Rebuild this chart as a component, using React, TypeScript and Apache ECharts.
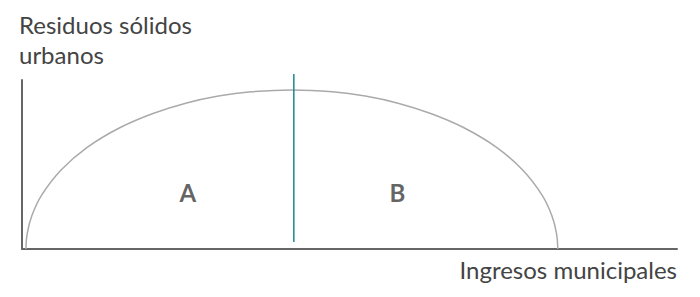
import React, { useEffect, useRef } from "react";
import * as echarts from "echarts";

const yAxisTitle = "Residuos sólidos\nurbanos";
const xAxisTitle = "Ingresos municipales";
const curveX = [0.6, 0.8, 1.5, 3, 6, 10, 15, 20, 25, 30, 35, 41.2, 47.4, 52.4, 57.4, 62.4, 67.4, 72.4, 76.4, 79.4, 80.9, 81.6, 81.8];
const curveY = [0, 9.3, 19.7, 31.9, 46.9, 60.3, 71.9, 80.2, 86.3, 90.5, 93.0, 94.1, 93.0, 90.5, 86.3, 80.2, 71.9, 60.3, 46.9, 31.9, 19.7, 9.3, 0];
const dividerX = [41.5, 41.5];
const dividerY = [4.1, 103.6];
const regionLabels = ["A", "B"];
const regionX = [25.3, 57.3];
const regionY = [33.7, 33.7];

export default function App() {
  const ref = useRef<HTMLDivElement>(null);
  useEffect(() => {
    if (!ref.current) return;
    const chart = echarts.init(ref.current, null, { renderer: "svg" });
    const font = "Lato, 'Open Sans', sans-serif";
    chart.setOption({
      animation: false,
      grid: { left: 22, right: 23, top: 80, bottom: 48 },
      xAxis: {
        type: "value", min: 0, max: 100,
        axisLine: { show: true, lineStyle: { color: "#666", width: 2 } },
        axisTick: { show: false }, axisLabel: { show: false }, splitLine: { show: false },
      },
      yAxis: {
        type: "value", min: 0, max: 100,
        axisLine: { show: true, lineStyle: { color: "#666", width: 2 } },
        axisTick: { show: false }, axisLabel: { show: false }, splitLine: { show: false },
      },
      graphic: [
        {
          type: "text", left: 19, top: 9,
          style: { text: yAxisTitle, font: `24px ${font}`, fill: "#444", lineHeight: 30 },
        },
        {
          type: "text", right: 23, top: 257,
          style: { text: xAxisTitle, font: `24px ${font}`, fill: "#444" },
        },
      ],
      series: [
        {
          type: "line",
          data: curveX.map((x, i) => [x, curveY[i]]),
          smooth: 0.4,
          showSymbol: false,
          lineStyle: { color: "#aaaaaa", width: 1.5 },
          z: 2,
        },
        {
          type: "line",
          data: dividerX.map((x, i) => [x, dividerY[i]]),
          showSymbol: false,
          clip: false,
          lineStyle: { color: "#1f8595", width: 1.5 },
          z: 3,
        },
        {
          type: "scatter",
          symbolSize: 0,
          data: regionX.map((x, i) => ({ value: [x, regionY[i]], name: regionLabels[i] })),
          label: {
            show: true, position: "inside", formatter: "{b}",
            fontFamily: font, fontWeight: "bold", fontSize: 24, color: "#3a3a3a",
          },
        },
      ],
    });
    return () => chart.dispose();
  }, []);
  return <div ref={ref} style={{ width: 700, height: 297, margin: -8 }} />;
}
